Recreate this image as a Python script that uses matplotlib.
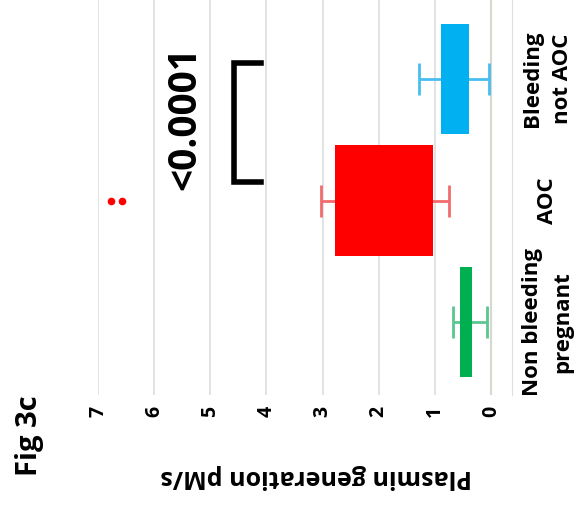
import matplotlib.pyplot as plt

categories = ["Non bleeding\npregnant", "AOC", "Bleeding\nnot AOC"]
box_low = [0.34, 1.04, 0.39]
box_high = [0.55, 2.77, 0.89]
whisker_low = [0.07, 0.75, 0.04]
whisker_high = [0.68, 3.02, 1.29]
bar_colors = ["#00B050", "#FF0000", "#00B0F0"]
err_colors = ["#5CC691", "#F26B6E", "#49BDF0"]
outlier_cat = [1, 1]
outlier_vals = [6.57, 6.77]
value_ticks = [0, 1, 2, 3, 4, 5, 6, 7]
p_label = "<0.0001"

plt.rcParams['font.family'] = ['Open Sans', 'DejaVu Sans']

fig = plt.figure(figsize=(5.88, 5.08), dpi=100)
ax = fig.add_axes([98 / 588, 1 - 395 / 508, (512 - 98) / 588, 395 / 508])

ypos = list(range(len(categories)))
widths = [h - l for l, h in zip(box_low, box_high)]
centers = [(l + h) / 2 for l, h in zip(whisker_low, whisker_high)]
halves = [(h - l) / 2 for l, h in zip(whisker_low, whisker_high)]

for i in ypos:
    ax.errorbar(centers[i], ypos[i], xerr=halves[i], fmt='none',
                ecolor=err_colors[i], elinewidth=2, capsize=11.5,
                capthick=2, zorder=2)
ax.barh(ypos, widths, left=box_low, height=0.91, color=bar_colors, zorder=3)

ax.scatter(outlier_vals, outlier_cat, s=20, color="#FF0000", zorder=4)

# significance bracket between AOC and bleeding not AOC
bx_in, bx_out = 4.09, 4.57
by_lo, by_hi = 1.15, 2.13
ax.plot([bx_in, bx_out, bx_out, bx_in], [by_hi, by_hi, by_lo, by_lo],
        color="black", lw=4, solid_joinstyle='miter', zorder=4)
ax.text(5.46, 1.68, p_label, rotation=90, ha='center', va='center',
        fontsize=28, fontweight='bold')

ax.set_xlim(7, -0.375)
ax.set_ylim(-0.6, 2.65)
ax.set_xticks(value_ticks)
ax.set_xticklabels([str(v) for v in value_ticks], rotation=90,
                   fontsize=14, fontweight='bold')
ax.grid(axis='x', color="#DEDEDE", lw=1.2, zorder=0)
ax.axvline(0, color="#A9C38D", lw=1.5, zorder=1)

ax.set_yticks(ypos)
ax.set_yticklabels(categories, rotation=90, fontsize=16, fontweight='bold',
                   ha='center', va='center', multialignment='center',
                   linespacing=1.6)
ax.tick_params(axis='y', left=False, right=False, labelleft=False,
               labelright=True, pad=22)
ax.tick_params(axis='x', length=0, pad=8)

for side in ['top', 'left', 'bottom']:
    ax.spines[side].set_visible(False)
ax.spines['right'].set_color("#DEDEDE")

fig.text(316 / 588, 1 - 476 / 508, "Plasmin generation pM/s", rotation=180,
         ha='center', va='center', fontsize=18, fontweight='bold')
fig.text(29 / 588, 1 - 436 / 508, "Fig 3c", rotation=90,
         ha='center', va='center', fontsize=21, fontweight='bold')

fig.savefig("out.png", dpi=100)
